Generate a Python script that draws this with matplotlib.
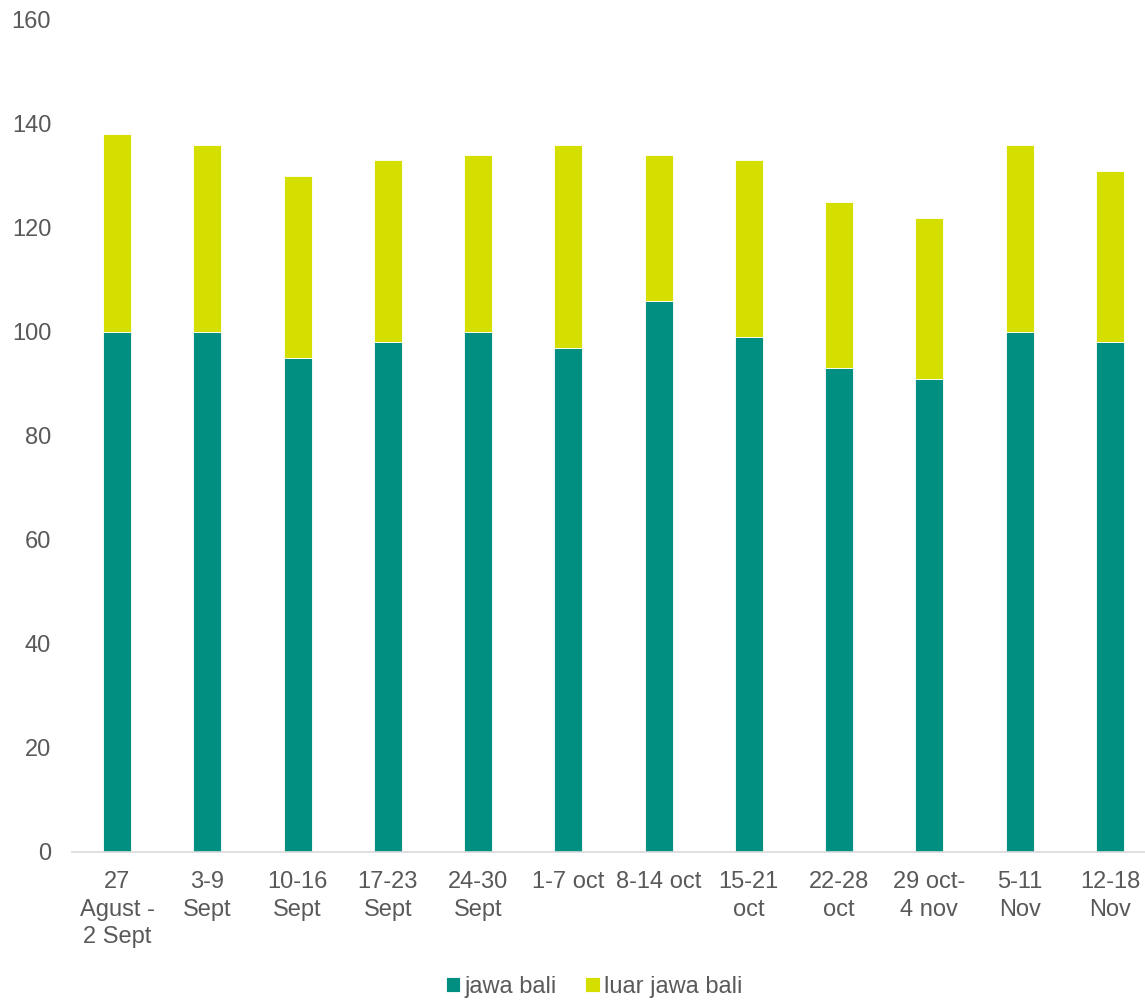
import numpy as np
import matplotlib
matplotlib.use('Agg')
import matplotlib.pyplot as plt

# weekly data
weeks = ['27\nAgust -\n2 Sept', '3-9\nSept', '10-16\nSept', '17-23\nSept', '24-30\nSept',
         '1-7 oct', '8-14 oct', '15-21\noct', '22-28\noct', '29 oct-\n4 nov', '5-11\nNov', '12-18\nNov']
jawa_bali = [100, 100, 95, 98, 100, 97, 106, 99, 93, 91, 100, 98]
luar_jawa_bali = [38, 36, 35, 35, 34, 39, 28, 34, 32, 31, 36, 33]
yticks = [0, 20, 40, 60, 80, 100, 120, 140, 160]

teal = '#008F80'
lime = '#D4DF00'
txt = '#595959'

plt.rcParams['font.family'] = ['Liberation Sans', 'DejaVu Sans']

fig = plt.figure(figsize=(11.45, 10), dpi=100)
ax = fig.add_axes([72 / 1145, 0.148, 1083 / 1145, 0.832])

x = np.arange(len(weeks))
w = 0.31
ax.bar(x, jawa_bali, w, color=teal, label='jawa bali', edgecolor='white', linewidth=0.6)
ax.bar(x, luar_jawa_bali, w, bottom=jawa_bali, color=lime, label='luar jawa bali',
       edgecolor='white', linewidth=0.6)

ax.set_xlim(-0.5, len(weeks) - 0.5)
ax.set_ylim(0, 160)
ax.set_yticks(yticks)
ax.set_xticks(x)
ax.set_xticklabels(weeks, linespacing=1.3)

for s in ['top', 'right', 'left']:
    ax.spines[s].set_visible(False)
ax.spines['bottom'].set_color('#D9D9D9')
ax.spines['bottom'].set_linewidth(1.2)

ax.tick_params(axis='y', length=0, pad=15, labelsize=17, labelcolor=txt)
ax.tick_params(axis='x', length=0, pad=14, labelsize=17, labelcolor=txt)

fig.legend(loc='center', bbox_to_anchor=(0.519, 0.013), ncol=2, frameon=False,
           fontsize=17, labelcolor=txt, handlelength=0.6, handleheight=0.6,
           handletextpad=0.2, columnspacing=1.2)

fig.savefig('out.png', dpi=100)
